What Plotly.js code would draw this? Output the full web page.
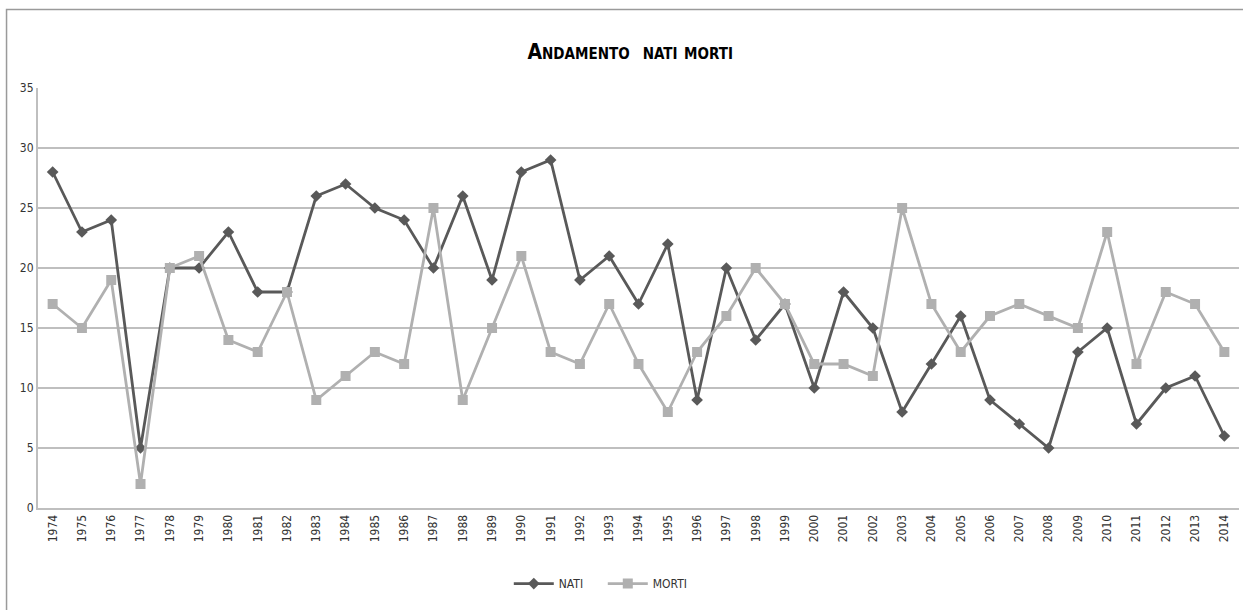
<!DOCTYPE html>
<html>
<head>
<meta charset="utf-8">
<script src="https://cdn.plot.ly/plotly-3.0.1.min.js"></script>
<style>
html, body { margin: 0; padding: 0; background: #ffffff; }
#chart { width: 1243px; height: 610px; }
</style>
</head>
<body>
<div id="chart"></div>
<script>
const years = ["1974","1975","1976","1977","1978","1979","1980","1981","1982","1983","1984","1985","1986","1987","1988","1989","1990","1991","1992","1993","1994","1995","1996","1997","1998","1999","2000","2001","2002","2003","2004","2005","2006","2007","2008","2009","2010","2011","2012","2013","2014"];
const nati  = [28,23,24,5,20,20,23,18,18,26,27,25,24,20,26,19,28,29,19,21,17,22,9,20,14,17,10,18,15,8,12,16,9,7,5,13,15,7,10,11,6];
const morti = [17,15,19,2,20,21,14,13,18,9,11,13,12,25,9,15,21,13,12,17,12,8,13,16,20,17,12,12,11,25,17,13,16,17,16,15,23,12,18,17,13];
const yTicks = [0,5,10,15,20,25,30,35];

const narrow = "'Liberation Sans Narrow', 'Arial Narrow', 'DejaVu Sans Condensed', sans-serif";

const traces = [
  {
    x: years, y: nati, name: 'NATI', type: 'scatter', mode: 'lines+markers',
    line: {color: '#595959', width: 2.8},
    marker: {symbol: 'diamond', size: 9, color: '#595959'}
  },
  {
    x: years, y: morti, name: 'MORTI', type: 'scatter', mode: 'lines+markers',
    line: {color: '#b0b0b0', width: 2.8},
    marker: {symbol: 'square', size: 10, color: '#b0b0b0'}
  }
];

const layout = {
  width: 1243, height: 610,
  margin: {l: 38, r: 4, t: 88, b: 102},
  paper_bgcolor: '#ffffff', plot_bgcolor: '#ffffff',
  showlegend: true,
  title: {
    text: '<b>Andamento  nati morti</b>',
    font: {family: narrow, size: 21, color: '#000000', variant: 'small-caps'},
    x: 0.507, xanchor: 'center', y: 0.915, yanchor: 'middle'
  },
  xaxis: {
    type: 'category',
    tickangle: -90,
    tickfont: {family: narrow, size: 12, color: '#333333'},
    showgrid: false,
    showline: true, linecolor: '#bfbfbf', linewidth: 2,
    ticks: '', zeroline: false,
    range: [-0.5, years.length - 0.5],
    fixedrange: true
  },
  yaxis: {
    range: [0, 35],
    tickvals: yTicks,
    tickfont: {family: narrow, size: 12, color: '#333333'},
    showgrid: true, gridcolor: '#bfbfbf', gridwidth: 1.5,
    showline: true, linecolor: '#bfbfbf', linewidth: 2,
    zeroline: false, ticks: '', ticklen: 0,
    fixedrange: true
  },
  legend: {
    orientation: 'h',
    x: 0.392, xanchor: 'left',
    y: -0.18, yanchor: 'middle',
    font: {family: narrow, size: 12, color: '#333333'},
    itemwidth: 40,
    entrywidth: 39,
    bgcolor: 'rgba(0,0,0,0)'
  },
  shapes: [
    {
      type: 'rect', xref: 'paper', yref: 'paper',
      x0: -0.0262, x1: 1.02, y0: -0.3, y1: 1.187,
      line: {color: '#9a9a9a', width: 1.5},
      fillcolor: 'rgba(0,0,0,0)', layer: 'below'
    }
  ]
};

Plotly.newPlot('chart', traces, layout, {displayModeBar: false, staticPlot: true});
</script>
</body>
</html>
